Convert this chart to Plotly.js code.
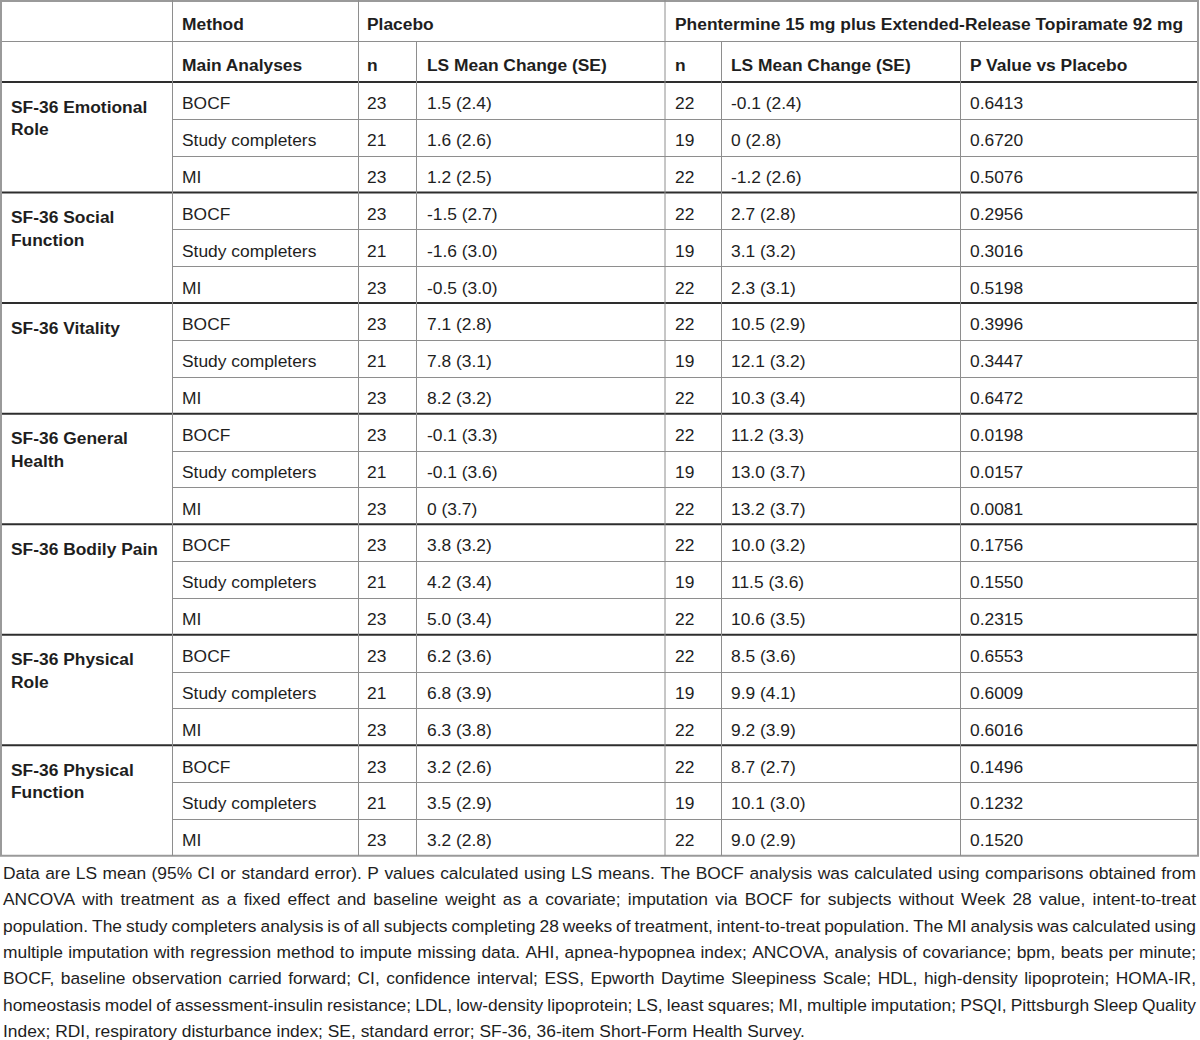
<!DOCTYPE html>
<html><head><meta charset="utf-8">
<script src="https://cdn.plot.ly/plotly-3.0.1.min.js"></script>
<style>html,body{margin:0;padding:0;background:#fff;}</style>
</head><body><div id="chart" style="width:1200px;height:1040px;"></div>
<script>
// ---------- data ----------
const domains = ["SF-36 Emotional<br>Role", "SF-36 Social<br>Function", "SF-36 Vitality",
  "SF-36 General<br>Health", "SF-36 Bodily Pain", "SF-36 Physical<br>Role", "SF-36 Physical<br>Function"];
const methods = ["BOCF", "Study completers", "MI"];
const placeboN = [23,21,23, 23,21,23, 23,21,23, 23,21,23, 23,21,23, 23,21,23, 23,21,23];
const placeboMean = [1.5,1.6,1.2, -1.5,-1.6,-0.5, 7.1,7.8,8.2, -0.1,-0.1,0, 3.8,4.2,5.0, 6.2,6.8,6.3, 3.2,3.5,3.2];
const placeboSE = [2.4,2.6,2.5, 2.7,3.0,3.0, 2.8,3.1,3.2, 3.3,3.6,3.7, 3.2,3.4,3.4, 3.6,3.9,3.8, 2.6,2.9,2.8];
const phenN = [22,19,22, 22,19,22, 22,19,22, 22,19,22, 22,19,22, 22,19,22, 22,19,22];
const phenMean = [-0.1,0,-1.2, 2.7,3.1,2.3, 10.5,12.1,10.3, 11.2,13.0,13.2, 10.0,11.5,10.6, 8.5,9.9,9.2, 8.7,10.1,9.0];
const phenSE = [2.4,2.8,2.6, 2.8,3.2,3.1, 2.9,3.2,3.4, 3.3,3.7,3.7, 3.2,3.6,3.5, 3.6,4.1,3.9, 2.7,3.0,2.9];
const pValues = [0.6413,0.6720,0.5076, 0.2956,0.3016,0.5198, 0.3996,0.3447,0.6472, 0.0198,0.0157,0.0081,
  0.1756,0.1550,0.2315, 0.6553,0.6009,0.6016, 0.1496,0.1232,0.1520];
const headerRow1 = ["", "Method", "Placebo", "Phentermine 15 mg plus Extended-Release Topiramate 92 mg"];
const headerRow2 = ["", "Main Analyses", "n", "LS Mean Change (SE)", "n", "LS Mean Change (SE)", "P Value vs Placebo"];
const footnoteLines = [
  "Data are LS mean (95% CI or standard error). P values calculated using LS means. The BOCF analysis was calculated using comparisons obtained from",
  "ANCOVA with treatment as a fixed effect and baseline weight as a covariate; imputation via BOCF for subjects without Week 28 value, intent-to-treat",
  "population. The study completers analysis is of all subjects completing 28 weeks of treatment, intent-to-treat population. The MI analysis was calculated using",
  "multiple imputation with regression method to impute missing data. AHI, apnea-hypopnea index; ANCOVA, analysis of covariance; bpm, beats per minute;",
  "BOCF, baseline observation carried forward; CI, confidence interval; ESS, Epworth Daytime Sleepiness Scale; HDL, high-density lipoprotein; HOMA-IR,",
  "homeostasis model of assessment-insulin resistance; LDL, low-density lipoprotein; LS, least squares; MI, multiple imputation; PSQI, Pittsburgh Sleep Quality",
  "Index; RDI, respiratory disturbance index; SE, standard error; SF-36, 36-item Short-Form Health Survey."
];

// ---------- layout constants ----------
const FONT = "Liberation Sans, Arial, sans-serif";
const FS = 17.4;
const TXT = "#1e1e1e";
const colLines = {c0: 1, c1: 172.5, c2: 358.5, c3: 416.5, c4: 665, c5: 721.5, c6: 960.5, c7: 1198};
const textX = {label: 11, method: 182, pN: 367, pLS: 427, hN: 675, hLS: 731, p: 970, ph1: 675};
const hdr1 = 41.5, hdr2 = 82, rowH = 36.85;
const nRows = placeboN.length;
const tableBottom = hdr2 + nRows * rowH;

const fmt = v => v === 0 ? "0" : v.toFixed(1);
const cell = (m, s) => fmt(m) + " (" + s.toFixed(1) + ")";

const rowIdx = placeboN.map((_, i) => i);
const rowY = rowIdx.map(i => hdr2 + (i + 0.5) * rowH + 4.5);
const methodText = rowIdx.map(i => methods[i % 3]);

function textTrace(xs, ys, texts, pos, bold) {
  return {
    type: "scatter", mode: "text", x: xs, y: ys,
    text: texts.map(t => bold ? "<b>" + t + "</b>" : t),
    textposition: pos || "middle right",
    textfont: {family: FONT, size: FS, color: TXT},
    hoverinfo: "skip", cliponaxis: false, showlegend: false
  };
}
const cx = (v) => rowIdx.map(() => v);

const traces = [];
// header rows
const h1y = hdr1 / 2 + 5, h2y = (hdr1 + hdr2) / 2 + 5;
traces.push(textTrace([textX.method, textX.pN, textX.ph1], [h1y, h1y, h1y], headerRow1.slice(1), null, true));
traces.push(textTrace([textX.method, textX.pN, textX.pLS, textX.hN, textX.hLS, textX.p],
  [h2y, h2y, h2y, h2y, h2y, h2y], headerRow2.slice(1), null, true));
// domain labels (top-aligned in merged cells)
traces.push(textTrace(domains.map(() => textX.label), domains.map((_, b) => hdr2 + b * 3 * rowH + 17.5),
  domains, "bottom right", true));
// body cells
traces.push(textTrace(cx(textX.method), rowY, methodText));
traces.push(textTrace(cx(textX.pN), rowY, placeboN.map(String)));
traces.push(textTrace(cx(textX.pLS), rowY, rowIdx.map(i => cell(placeboMean[i], placeboSE[i]))));
traces.push(textTrace(cx(textX.hN), rowY, phenN.map(String)));
traces.push(textTrace(cx(textX.hLS), rowY, rowIdx.map(i => cell(phenMean[i], phenSE[i]))));
traces.push(textTrace(cx(textX.p), rowY, pValues.map(v => v.toFixed(4))));

// footnote: justified word placement using measured word widths
const ctx = document.createElement("canvas").getContext("2d");
ctx.font = FS + "px 'Liberation Sans'";
const fnLeft = 3, fnRight = 1196, fnTop = 874.5, fnStep = 26.4;
footnoteLines.forEach((line, li) => {
  const words = line.split(" ");
  const widths = words.map(w => ctx.measureText(w).width);
  const total = widths.reduce((a, b) => a + b, 0);
  const justify = li < footnoteLines.length - 1;
  const gap = justify ? (fnRight - fnLeft - total) / (words.length - 1) : ctx.measureText(" ").width;
  const xs = [];
  let x = fnLeft;
  words.forEach((w, k) => { xs.push(x); x += widths[k] + gap; });
  const y = fnTop + li * fnStep;
  traces.push(textTrace(xs, xs.map(() => y), words));
});

// ---------- grid lines ----------
const shapes = [];
function hl(y, x0, x1, color, w) { shapes.push({type: "line", xref: "x", yref: "y", x0: x0, x1: x1, y0: y, y1: y, line: {color: color, width: w}}); }
function vl(x, y0, y1, color, w) { shapes.push({type: "line", xref: "x", yref: "y", x0: x, x1: x, y0: y0, y1: y1, line: {color: color, width: w}}); }
const GRAY = "#8e8e8e", DARK = "#2e2e2e", BORDER = "#9a9a9a";
hl(1, 0, 1199, BORDER, 2);
hl(hdr1, 0, 1199, GRAY, 1);
hl(hdr2, 0, 1199, DARK, 2);
rowIdx.forEach(i => {
  if (i === 0) return;
  const y = hdr2 + i * rowH;
  if (i % 3 === 0) hl(y, 0, 1199, DARK, 2);
  else hl(Math.round(y) + 0.5, colLines.c1, 1199, GRAY, 1);
});
hl(tableBottom, 0, 1199, BORDER, 2);
vl(colLines.c0, 0, tableBottom, BORDER, 2);
vl(colLines.c1, 0, tableBottom, GRAY, 1);
vl(colLines.c2, 0, tableBottom, GRAY, 1);
vl(colLines.c3, hdr1, tableBottom, GRAY, 1);
vl(colLines.c4, 0, tableBottom, GRAY, 1);
vl(colLines.c5, hdr1, tableBottom, GRAY, 1);
vl(colLines.c6, hdr1, tableBottom, GRAY, 1);
vl(colLines.c7, 0, tableBottom, BORDER, 2);

const layout = {
  width: 1200, height: 1040,
  margin: {l: 0, r: 0, t: 0, b: 0, pad: 0},
  paper_bgcolor: "#ffffff", plot_bgcolor: "#ffffff",
  xaxis: {range: [0, 1200], visible: false, fixedrange: true},
  yaxis: {range: [1040, 0], visible: false, fixedrange: true},
  shapes: shapes, showlegend: false, hovermode: false,
  font: {family: FONT, size: FS, color: TXT}
};
Plotly.newPlot("chart", traces, layout, {staticPlot: true, displayModeBar: false});
</script></body></html>
